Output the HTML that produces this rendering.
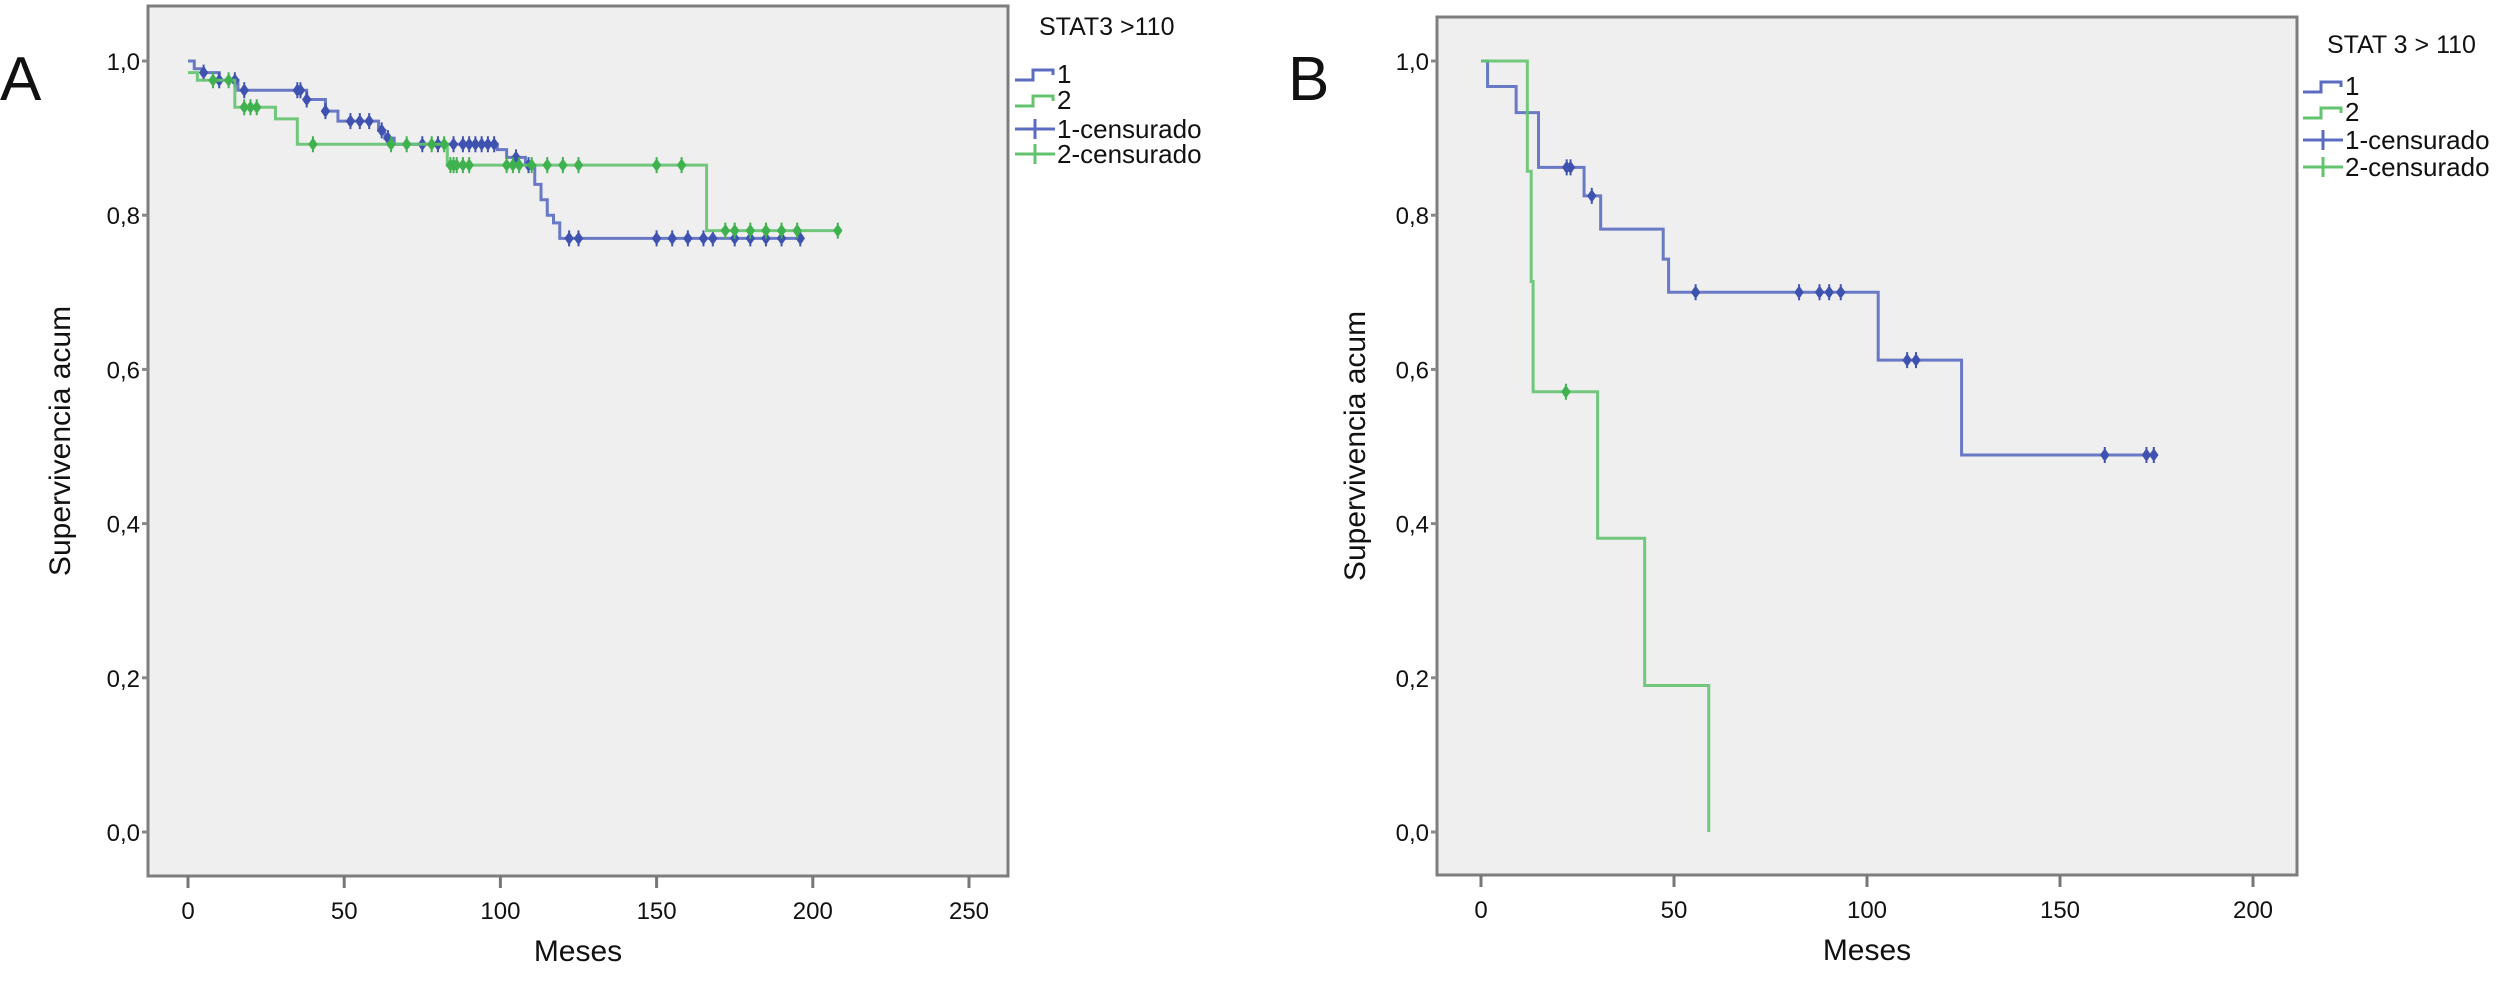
<!DOCTYPE html>
<html><head><meta charset="utf-8">
<style>
html,body{margin:0;padding:0;background:#fff;}
svg{display:block;}
text{font-family:"Liberation Sans",sans-serif;fill:#111;}
</style></head>
<body>
<svg id="chart" width="2503" height="983" viewBox="0 0 2503 983" xmlns="http://www.w3.org/2000/svg"></svg>
<script>
// ---------- Panel A data ----------
const aXTicks = [0, 50, 100, 150, 200, 250];
const aYTicks = [0, 0.2, 0.4, 0.6, 0.8, 1.0];
const aYTickLabels = ["0,0", "0,2", "0,4", "0,6", "0,8", "1,0"];
const aG1Times = [0, 2, 5, 10, 16, 38, 44, 48, 61, 63, 66, 99, 102, 108, 111, 113, 115, 117, 119, 197];
const aG1Surv  = [1.0, 0.99, 0.985, 0.975, 0.962, 0.95, 0.935, 0.922, 0.91, 0.9, 0.892, 0.885, 0.875, 0.865, 0.84, 0.82, 0.80, 0.79, 0.77, 0.77];
const aG1Cens  = [5, 10, 15, 18, 35, 36, 38, 44, 52, 55, 58, 62, 64, 75, 80, 85, 88, 90, 92, 94, 96, 98, 105, 109, 122, 125, 150, 155, 160, 165, 168, 175, 180, 185, 190, 196];
const aG2Times = [0, 3, 15, 28, 35, 83, 166, 208];
const aG2Surv  = [0.985, 0.975, 0.94, 0.925, 0.892, 0.865, 0.78, 0.78];
const aG2Cens  = [8, 13, 18, 20, 22, 40, 65, 70, 78, 82, 84, 85, 86, 88, 90, 102, 104, 106, 110, 115, 120, 125, 150, 158, 172, 175, 180, 185, 190, 195, 208];

// ---------- Panel B data ----------
const bXTicks = [0, 50, 100, 150, 200];
const bYTicks = [0, 0.2, 0.4, 0.6, 0.8, 1.0];
const bYTickLabels = ["0,0", "0,2", "0,4", "0,6", "0,8", "1,0"];
const bG1Times = [0, 1.7, 9.1, 14.9, 26.7, 31, 47.2, 48.6, 102.9, 124.5, 174.3];
const bG1Surv  = [1.0, 0.967, 0.933, 0.862, 0.825, 0.782, 0.743, 0.70, 0.612, 0.489, 0.489];
const bG1Cens  = [22.2, 23.2, 28.7, 55.6, 82.4, 87.7, 90.2, 93.2, 110.4, 112.7, 161.6, 172.4, 174.3];
const bG2Times = [0, 12, 13, 13.5, 30.2, 42.4, 59];
const bG2Surv  = [1.0, 0.857, 0.714, 0.571, 0.381, 0.19, 0.0];
const bG2Cens  = [22];

const NS = "http://www.w3.org/2000/svg";
const svg = document.getElementById("chart");
function mk(tag, attrs, parent) {
  const e = document.createElementNS(NS, tag);
  for (const k in attrs) e.setAttribute(k, attrs[k]);
  (parent || svg).appendChild(e);
  return e;
}
function survAt(times, surv, t) {
  let s = surv[0];
  for (let i = 0; i < times.length; i++) { if (times[i] <= t) s = surv[i]; }
  return s;
}
const BLUE = "#5a6cc0", BLUE_D = "#3f52b0", GREEN = "#63c36f", GREEN_D = "#3fb24f";

function panel(cfg) {
  const g = mk("g", {});
  
  
  const X = t => cfg.x0 + (t - cfg.xMin) * (cfg.x1 - cfg.x0) / (cfg.xMax - cfg.xMin);
  const Y = v => cfg.y0 + (1 - v) * (cfg.y1 - cfg.y0);
  // frame
  const fr = mk("rect", {x: cfg.fl, y: cfg.ft, width: cfg.fr - cfg.fl, height: cfg.fb - cfg.ft, fill: "#efefef", stroke: "#7d7d7d", "stroke-width": 3}, g);
  
  
  // y ticks
  cfg.yTicks.forEach((v, i) => {
    const tk = mk("line", {x1: cfg.fl - 6, x2: cfg.fl, y1: Y(v), y2: Y(v), stroke: "#888", "stroke-width": 3}, g);
    
    
    const tx = mk("text", {x: cfg.fl - 8, y: Y(v) + 9, "font-size": 24, "text-anchor": "end"}, g);
    tx.textContent = cfg.yLabels[i];
    
    
  });
  // x ticks
  cfg.xTicks.forEach(t => {
    const tk = mk("line", {x1: X(t), x2: X(t), y1: cfg.fb, y2: cfg.fb + 12, stroke: "#777", "stroke-width": 3}, g);
    
    
    const tx = mk("text", {x: X(t), y: cfg.fb + 43, "font-size": 24, "text-anchor": "middle"}, g);
    tx.textContent = String(t);
    
    
  });
  // series
  function series(times, surv, cens, col, colD, nm) {
    let d = "M" + X(times[0]) + "," + Y(surv[0]);
    for (let i = 1; i < times.length; i++) {
      d += " H" + X(times[i]) + " V" + Y(surv[i]);
    }
    const p = mk("path", {d: d, fill: "none", stroke: col, "stroke-width": 3, opacity: 0.9}, g);
    
    
    cens.forEach(t => {
      const s = survAt(times, surv, t);
      const cx = X(t), cy = Y(s);
      const m = mk("path", {d: "M" + cx + "," + (cy - 8) + " V" + (cy + 8) + " M" + (cx - 3.5) + "," + cy + " L" + cx + "," + (cy - 5) + " L" + (cx + 3.5) + "," + cy + " L" + cx + "," + (cy + 5) + "Z", stroke: colD, "stroke-width": 2, fill: colD}, g);
      
      
    });
  }
  series(cfg.g1T, cfg.g1S, cfg.g1C, BLUE, BLUE_D, "group-1");
  series(cfg.g2T, cfg.g2S, cfg.g2C, GREEN, GREEN_D, "group-2");
  // axis titles
  const xt = mk("text", {x: (cfg.fl + cfg.fr) / 2, y: cfg.fb + 85, "font-size": 30, "text-anchor": "middle"}, g);
  xt.textContent = "Meses";
  
  
  const yt = mk("text", {x: 0, y: 0, "font-size": 30, "text-anchor": "middle", transform: "translate(" + cfg.ytX + "," + ((cfg.ft + cfg.fb) / 2) + ") rotate(-90)"}, g);
  yt.textContent = "Supervivencia acum";
  
  
  // panel letter
  const pl = mk("text", {x: cfg.letterX, y: 100, "font-size": 62}, g);
  pl.textContent = cfg.letter;
  
  
  // legend
  const lg = mk("g", {}, g);
  
  
  const tt = mk("text", {x: cfg.legX + 24, y: cfg.legY[0], "font-size": 25}, lg);
  tt.textContent = cfg.legTitle;
  
  
  const items = [["1", BLUE, "step"], ["2", GREEN, "step"], ["1-censurado", BLUE, "cens"], ["2-censurado", GREEN, "cens"]];
  items.forEach((it, i) => {
    const y = cfg.legY[i + 1];
    const lx = cfg.legX;
    const eg = mk("g", {}, lg);
    
    
    if (it[2] === "step") {
      mk("path", {d: "M" + lx + "," + (y - 3) + " H" + (lx + 18) + " V" + (y - 13) + " H" + (lx + 38) + " V" + (y - 8), fill: "none", stroke: it[1], "stroke-width": 3}, eg);
    } else {
      mk("path", {d: "M" + lx + "," + (y - 9) + " H" + (lx + 40) + " M" + (lx + 20) + "," + (y - 19) + " V" + (y + 1), fill: "none", stroke: it[1], "stroke-width": 3}, eg);
    }
    const t = mk("text", {x: lx + 42, y: y, "font-size": 26}, eg);
    t.textContent = it[0];
  });
}

panel({name: "panel-a", letter: "A", letterX: 0,
  fl: 148, fr: 1008, ft: 6, fb: 876,
  x0: 188, x1: 969, xMin: 0, xMax: 250,
  y0: 61, y1: 832,
  xTicks: aXTicks, yTicks: aYTicks, yLabels: aYTickLabels,
  g1T: aG1Times, g1S: aG1Surv, g1C: aG1Cens,
  g2T: aG2Times, g2S: aG2Surv, g2C: aG2Cens,
  ytX: 70, legX: 1015, legY: [35, 83, 109, 138, 163], legTitle: "STAT3 >110"});

panel({name: "panel-b", letter: "B", letterX: 1288,
  fl: 1437, fr: 2297, ft: 17, fb: 875,
  x0: 1481, x1: 2253, xMin: 0, xMax: 200,
  y0: 61, y1: 832,
  xTicks: bXTicks, yTicks: bYTicks, yLabels: bYTickLabels,
  g1T: bG1Times, g1S: bG1Surv, g1C: bG1Cens,
  g2T: bG2Times, g2S: bG2Surv, g2C: bG2Cens,
  ytX: 1365, legX: 2303, legY: [53, 95, 121, 149, 176], legTitle: "STAT 3 > 110"});
</script>
</body></html>
